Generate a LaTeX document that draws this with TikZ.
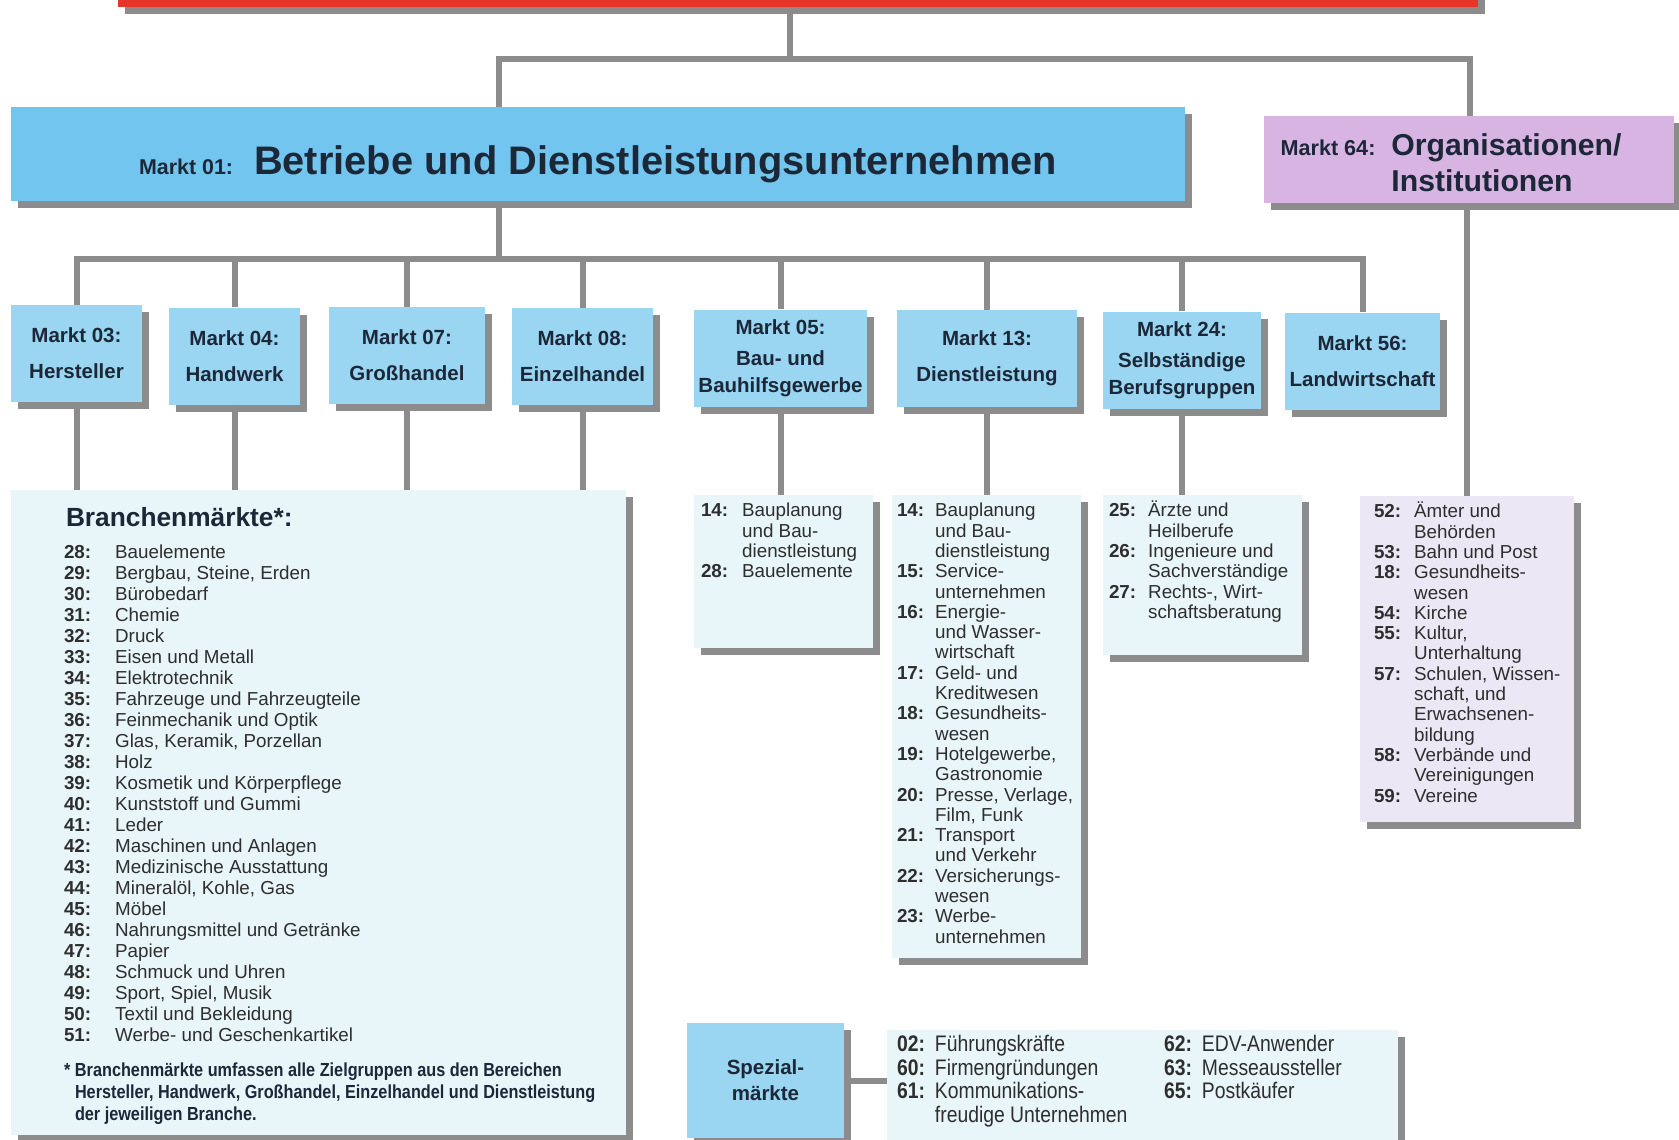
\documentclass[tikz,border=0pt]{standalone}
\usepackage{fontspec}
\setmainfont{Liberation Sans}
\newfontfamily\cnfont[FakeStretch=0.86]{Liberation Sans}
\usepackage{tikz}
\usetikzlibrary{calc,shadows}

\definecolor{barred}{HTML}{E6352B}
\definecolor{mblue}{HTML}{72C5EF}
\definecolor{sblue}{HTML}{9AD5F1}
\definecolor{lilac}{HTML}{D8B4E2}
\definecolor{pale}{HTML}{E8F5F9}
\definecolor{palelilac}{HTML}{ECE7F5}
\definecolor{linegray}{HTML}{8C8C8C}
\definecolor{ink}{HTML}{1C2838}
\definecolor{txtgray}{HTML}{2E2E2E}

\newcommand\nr[1]{\textbf{#1:}}

\begin{document}
\begin{tikzpicture}[x=1pt,y=-1pt,
  conn/.style={draw=linegray,line width=6pt},
  shd/.style={drop shadow={shadow xshift=7pt,shadow yshift=-7pt,fill=linegray,opacity=1}},
  mkt/.style={rectangle,fill=sblue,shd,inner sep=0pt,align=center,text=ink,
              font=\bfseries\fontsize{20.5}{27}\selectfont},
  lst/.style={rectangle,fill=pale,shd,inner sep=0pt},
  itm/.style={anchor=base west,inner sep=0pt,text=txtgray,font=\fontsize{18.8}{20.3}\selectfont}]
\useasboundingbox (0,0) rectangle (1679,1140);

% top level
\path (798,-17)    node (top) [fill=barred,shd,minimum width=1360pt,minimum height=48pt] {}
      (598,154)    node (m01) [fill=mblue,shd,minimum width=1174pt,minimum height=94pt,
                               text=ink,font=\bfseries\fontsize{39.8}{48}\selectfont,
                               text height=40pt,text depth=0pt]
                               {{\fontsize{21.4}{26}\selectfont Markt 01:}\hspace{21pt}Betriebe und Dienstleistungsunternehmen}
      (1469,159.5) node (m64) [fill=lilac,shd,minimum width=410pt,minimum height=87pt,
                               text=ink,font=\bfseries\fontsize{30.2}{36}\selectfont,
                               text height=20pt,text depth=29pt]
                               {\begin{tabular}[t]{@{}r@{\hspace{16pt}}l@{}}
                                 {\fontsize{21.6}{26}\selectfont Markt 64:} & Organisationen/\\
                                  & Institutionen
                                \end{tabular}\kern36pt};

% second level
\path (76.5,353.5) node (m03) [mkt,minimum width=131pt,minimum height=97pt] {Markt 03:\\[9pt]Hersteller}
      (234.5,356)  node (m04) [mkt,minimum width=131pt,minimum height=97pt] {Markt 04:\\[9pt]Handwerk}
      (407,355.5)  node (m07) [mkt,minimum width=156pt,minimum height=97pt] {Markt 07:\\[9pt]Großhandel}
      (582.5,356.5) node (m08) [mkt,minimum width=141pt,minimum height=97pt] {Markt 08:\\[9pt]Einzelhandel}
      (780.5,358)  node (m05) [mkt,minimum width=173pt,minimum height=97pt] {Markt 05:\\[4pt]Bau- und\\Bauhilfsgewerbe}
      (987,358.5)  node (m13) [mkt,minimum width=180pt,minimum height=97pt] {Markt 13:\\[9pt]Dienstleistung}
      (1182,360)   node (m24) [mkt,minimum width=158pt,minimum height=97pt] {Markt 24:\\[4pt]Selbständige\\Berufsgruppen}
      (1362.5,361) node (m56) [mkt,minimum width=155pt,minimum height=97pt] {Markt 56:\\[9pt]Landwirtschaft};

% lists
\path (318.5,812.5) node (br)  [lst,minimum width=615pt,minimum height=645pt] {}
      (783.5,571.5) node (l05) [lst,minimum width=179pt,minimum height=153pt] {}
      (986.5,726.5) node (l13) [lst,minimum width=189pt,minimum height=463pt] {}
      (1202.5,575)  node (l24) [lst,minimum width=199pt,minimum height=160pt] {}
      (1467,659)    node (l64) [lst,fill=palelilac,minimum width=214pt,minimum height=326pt] {}
      (765.5,1080.5) node (sp) [mkt,minimum width=157pt,minimum height=115pt,
                                font=\bfseries\fontsize{20.5}{26}\selectfont] {Spezial-\\märkte}
      (1142.5,1095) node (spl) [lst,minimum width=511pt,minimum height=130pt] {};

% connectors
\coordinate (t)  at (790,59);
\coordinate (j0) at (499,59);
\coordinate (j1) at (1470,59);
\coordinate (k)  at (499,259);
\draw[conn] (top.south -| t) -- (t);
\draw[conn] (m01.north -| j0) |- (j1) -- (m64.north -| j1);
\draw[conn] (m01.south -| k) -- (k);
\draw[conn] (m03.north) |- (m56.north |- k) -- (m56.north);
\foreach \n in {m04,m07,m08,m05,m13,m24}
  \draw[conn] (\n.north) -- (\n.north |- k);
\foreach \n in {m03,m04,m07,m08}
  \draw[conn] (\n.south) -- (\n.south |- br.north);
\draw[conn] (m05.south) -- (m05.south |- l05.north);
\draw[conn] (m13.south) -- (m13.south |- l13.north);
\draw[conn] (m24.south) -- (m24.south |- l24.north);
\draw[conn] (m64.south -| l64.north) -- (l64.north);
\draw[conn] (sp.east) -- (sp.east -| spl.west);

% Branchenmaerkte
\node[itm,text=ink,font=\bfseries\fontsize{26.3}{30}\selectfont] at ($(br.north west)+(55,37)$) {Branchenmärkte*:};
\node[itm,font=\fontsize{18.8}{21}\selectfont] at ($(br.north west)+(53,69)$) {%
  \begin{tabular}[t]{@{}l@{\hspace{24pt}}l@{}}
  \nr{28} & Bauelemente\\
  \nr{29} & Bergbau, Steine, Erden\\
  \nr{30} & Bürobedarf\\
  \nr{31} & Chemie\\
  \nr{32} & Druck\\
  \nr{33} & Eisen und Metall\\
  \nr{34} & Elektrotechnik\\
  \nr{35} & Fahrzeuge und Fahrzeugteile\\
  \nr{36} & Feinmechanik und Optik\\
  \nr{37} & Glas, Keramik, Porzellan\\
  \nr{38} & Holz\\
  \nr{39} & Kosmetik und Körperpflege\\
  \nr{40} & Kunststoff und Gummi\\
  \nr{41} & Leder\\
  \nr{42} & Maschinen und Anlagen\\
  \nr{43} & Medizinische Ausstattung\\
  \nr{44} & Mineralöl, Kohle, Gas\\
  \nr{45} & Möbel\\
  \nr{46} & Nahrungsmittel und Getränke\\
  \nr{47} & Papier\\
  \nr{48} & Schmuck und Uhren\\
  \nr{49} & Sport, Spiel, Musik\\
  \nr{50} & Textil und Bekleidung\\
  \nr{51} & Werbe- und Geschenkartikel
  \end{tabular}};
\node[itm,text=ink,font=\cnfont\bfseries\fontsize{18.9}{22}\selectfont] at ($(br.north west)+(53,587)$) {%
  \begin{tabular}[t]{@{}l@{}l@{}}
  \makebox[11pt][l]{*} & Branchenmärkte umfassen alle Zielgruppen aus den Bereichen\\
   & Hersteller, Handwerk, Großhandel, Einzelhandel und Dienstleistung\\
   & der jeweiligen Branche.
  \end{tabular}};

% Markt 05
\node[itm] at ($(l05.north west)+(7,22)$) {%
  \begin{tabular}[t]{@{}l@{\hspace{14pt}}l@{}}
  \nr{14} & Bauplanung\\
   & und Bau-\\
   & dienstleistung\\
  \nr{28} & Bauelemente
  \end{tabular}};

% Markt 13
\node[itm] at ($(l13.north west)+(5,22)$) {%
  \begin{tabular}[t]{@{}l@{\hspace{11pt}}l@{}}
  \nr{14} & Bauplanung\\
   & und Bau-\\
   & dienstleistung\\
  \nr{15} & Service-\\
   & unternehmen\\
  \nr{16} & Energie-\\
   & und Wasser-\\
   & wirtschaft\\
  \nr{17} & Geld- und\\
   & Kreditwesen\\
  \nr{18} & Gesundheits-\\
   & wesen\\
  \nr{19} & Hotelgewerbe,\\
   & Gastronomie\\
  \nr{20} & Presse, Verlage,\\
   & Film, Funk\\
  \nr{21} & Transport\\
   & und Verkehr\\
  \nr{22} & Versicherungs-\\
   & wesen\\
  \nr{23} & Werbe-\\
   & unternehmen
  \end{tabular}};

% Markt 24
\node[itm] at ($(l24.north west)+(6,22)$) {%
  \begin{tabular}[t]{@{}l@{\hspace{12pt}}l@{}}
  \nr{25} & Ärzte und\\
   & Heilberufe\\
  \nr{26} & Ingenieure und\\
   & Sachverständige\\
  \nr{27} & Rechts-, Wirt-\\
   & schaftsberatung
  \end{tabular}};

% Markt 64
\node[itm] at ($(l64.north west)+(14,22)$) {%
  \begin{tabular}[t]{@{}l@{\hspace{13pt}}l@{}}
  \nr{52} & Ämter und\\
   & Behörden\\
  \nr{53} & Bahn und Post\\
  \nr{18} & Gesundheits-\\
   & wesen\\
  \nr{54} & Kirche\\
  \nr{55} & Kultur,\\
   & Unterhaltung\\
  \nr{57} & Schulen, Wissen-\\
   & schaft, und\\
   & Erwachsenen-\\
   & bildung\\
  \nr{58} & Verbände und\\
   & Vereinigungen\\
  \nr{59} & Vereine
  \end{tabular}};

% Spezialmaerkte
\node[itm,font=\cnfont\fontsize{22.5}{23.5}\selectfont] at ($(spl.north west)+(10,22)$) {%
  \begin{tabular}[t]{@{}l@{\hspace{10pt}}l@{}}
  \nr{02} & Führungskräfte\\
  \nr{60} & Firmengründungen\\
  \nr{61} & Kommunikations-\\
   & freudige Unternehmen
  \end{tabular}};
\node[itm,font=\cnfont\fontsize{22.5}{23.5}\selectfont] at ($(spl.north west)+(277,22)$) {%
  \begin{tabular}[t]{@{}l@{\hspace{10pt}}l@{}}
  \nr{62} & EDV-Anwender\\
  \nr{63} & Messeaussteller\\
  \nr{65} & Postkäufer
  \end{tabular}};
\end{tikzpicture}
\end{document}
